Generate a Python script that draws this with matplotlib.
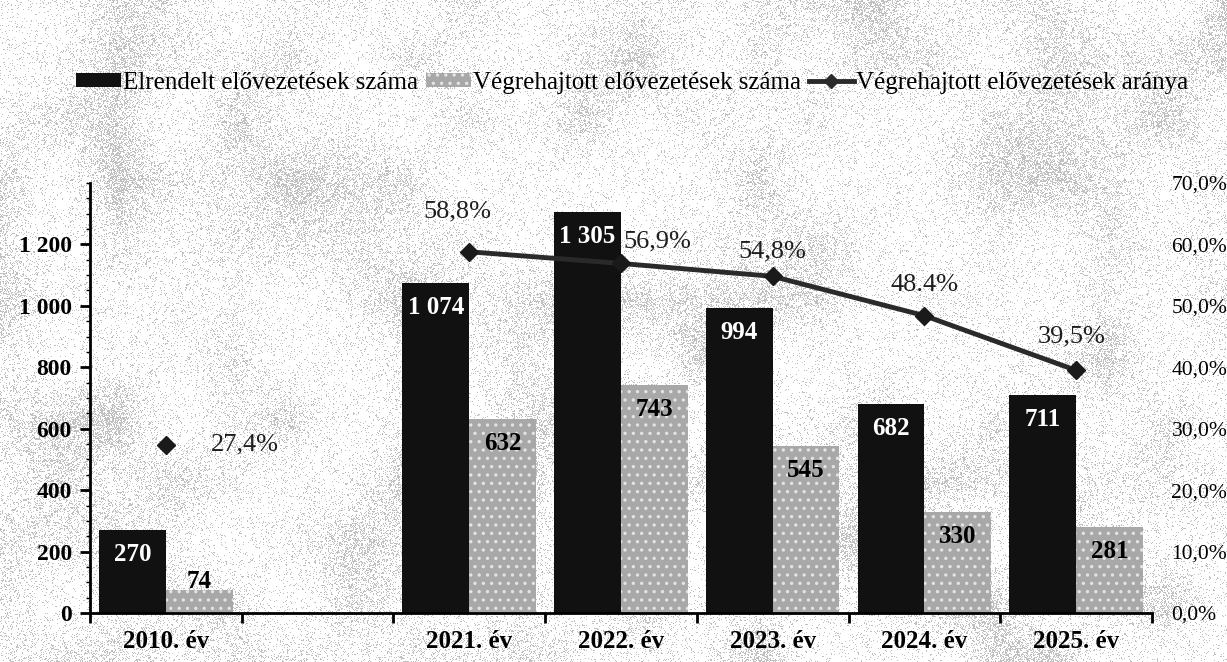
import numpy as np
import matplotlib
matplotlib.use("Agg")
import matplotlib.pyplot as plt
from matplotlib.ticker import FixedLocator, MultipleLocator, FuncFormatter
from matplotlib.patches import Patch
from matplotlib.lines import Line2D

plt.rcParams['font.family'] = ['Liberation Serif', 'DejaVu Serif']
plt.rcParams['hatch.linewidth'] = 1.2

# adatok
categories = ["2010. év", "", "2021. év", "2022. év", "2023. év", "2024. év", "2025. év"]
elrendelt = [270, None, 1074, 1305, 994, 682, 711]
vegrehajtott = [74, None, 632, 743, 545, 330, 281]
arany = [27.4, None, 58.8, 56.9, 54.8, 48.4, 39.5]
arany_labels = ["27,4%", "", "58,8%", "56,9%", "54,8%", "48.4%", "39,5%"]

fig = plt.figure(figsize=(12.27, 6.62), dpi=100)

# halvany szurke hatter textura (csak dekoracio)
bg = fig.add_axes([0, 0, 1, 1], zorder=-5)
rng = np.random.default_rng(3)
coarse = rng.random((12, 22))
rows = np.linspace(0, coarse.shape[0] - 1, 662)
cols = np.linspace(0, coarse.shape[1] - 1, 1227)
tmp = np.array([np.interp(cols, np.arange(coarse.shape[1]), r) for r in coarse])
smooth = np.array([np.interp(rows, np.arange(coarse.shape[0]), c) for c in tmp.T]).T
fine = rng.random(smooth.shape)
img = np.where(fine < 0.07 + 0.6 * smooth ** 3, 0.45, 1.0)
bg.imshow(img, cmap='gray', vmin=0, vmax=1, aspect='auto', alpha=0.45, interpolation='nearest')
bg.axis('off')

ax = fig.add_axes([0.0733, 0.074, 0.8656, 0.6496])
ax.patch.set_alpha(0)

x = np.arange(len(categories))
w = 0.44
for i in range(len(categories)):
    if elrendelt[i] is None:
        continue
    ax.bar(x[i] - w / 2, elrendelt[i], w, color='#111111', zorder=2)
    ax.bar(x[i] + w / 2, vegrehajtott[i], w, facecolor='#a8a8a8', edgecolor='#e4e4e4',
           hatch='..', linewidth=0, zorder=2)
    ax.text(x[i] - w / 2, elrendelt[i] - 80, f"{elrendelt[i]:,}".replace(",", " "),
            ha='center', va='center', color='white', fontsize=18, fontweight='bold', zorder=5)
    v = vegrehajtott[i]
    ly = v - 80 if v > 150 else v + 30
    ax.text(x[i] + w / 2, ly, f"{v:,}".replace(",", " "), ha='center', va='center',
            color='black', fontsize=18, fontweight='bold', zorder=5)

ax.set_xlim(-0.5, len(categories) - 0.5)
ax.set_ylim(0, 1400)
ax.yaxis.set_major_locator(FixedLocator([0, 200, 400, 600, 800, 1000, 1200]))
ax.yaxis.set_minor_locator(MultipleLocator(50))
ax.yaxis.set_major_formatter(FuncFormatter(lambda v, p: f"{int(v):,}".replace(",", " ")))
ax.tick_params(axis='y', which='major', length=7, width=2, labelsize=17, pad=6)
ax.tick_params(axis='y', which='minor', length=3, width=1)
for t in ax.get_yticklabels():
    t.set_fontweight('bold')

ax.set_xticks(np.arange(len(categories) + 1) - 0.5)
ax.set_xticklabels([])
ax.set_xticks(x, minor=True)
ax.set_xticklabels(categories, minor=True, fontsize=18, fontweight='bold')
ax.tick_params(axis='x', which='major', length=7, width=2)
ax.tick_params(axis='x', which='minor', length=0, pad=12)

ax.spines['top'].set_visible(False)
ax.spines['right'].set_visible(False)
ax.spines['left'].set_linewidth(2)
ax.spines['bottom'].set_linewidth(2)

# arany a jobb tengelyen
ax2 = ax.twinx()
ax2.set_ylim(0, 70)
ax2.set_yticks(range(0, 71, 10))
ax2.yaxis.set_major_formatter(FuncFormatter(lambda v, p: f"{v:.1f}%".replace(".", ",")))
ax2.tick_params(axis='y', length=0, labelsize=15.5, pad=14)
for s in ax2.spines.values():
    s.set_visible(False)

line_x = [x[i] for i in range(2, len(categories))]
line_y = [arany[i] for i in range(2, len(categories))]
ax2.plot(line_x, line_y, color='#2a2a2a', lw=3.5, marker='D', ms=9, mfc='#1a1a1a',
         mec='#1a1a1a', zorder=6)
ax2.plot([x[0]], [arany[0]], marker='D', ms=9, color='#1a1a1a', ls='none', zorder=6)

# cimke eltolasok (x kategoria, y szazalekpont)
offsets = {0: (0.52, 0), 2: (-0.08, 6.5), 3: (0.24, 3.5), 4: (0.0, 4.0), 5: (0.0, 5.0), 6: (-0.03, 5.5)}
for i, (dx, dy) in offsets.items():
    ax2.text(x[i] + dx, arany[i] + dy, arany_labels[i], ha='center', va='center',
             fontsize=19, color='#1e1e1e', zorder=7)

handles = [Patch(facecolor='#111111'),
           Patch(facecolor='#a8a8a8', edgecolor='#e4e4e4', hatch='..', linewidth=0),
           Line2D([0], [0], color='#2a2a2a', lw=3.5, marker='D', ms=7)]
labels = ["Elrendelt elővezetések száma", "Végrehajtott elővezetések száma",
          "Végrehajtott elővezetések aránya"]
fig.legend(handles, labels, loc='center', bbox_to_anchor=(0.515, 0.875), ncol=3,
           frameon=False, fontsize=18, handlelength=1.8, handleheight=0.5,
           handletextpad=0.1, columnspacing=0.3)

fig.savefig("out.png", dpi=100)
